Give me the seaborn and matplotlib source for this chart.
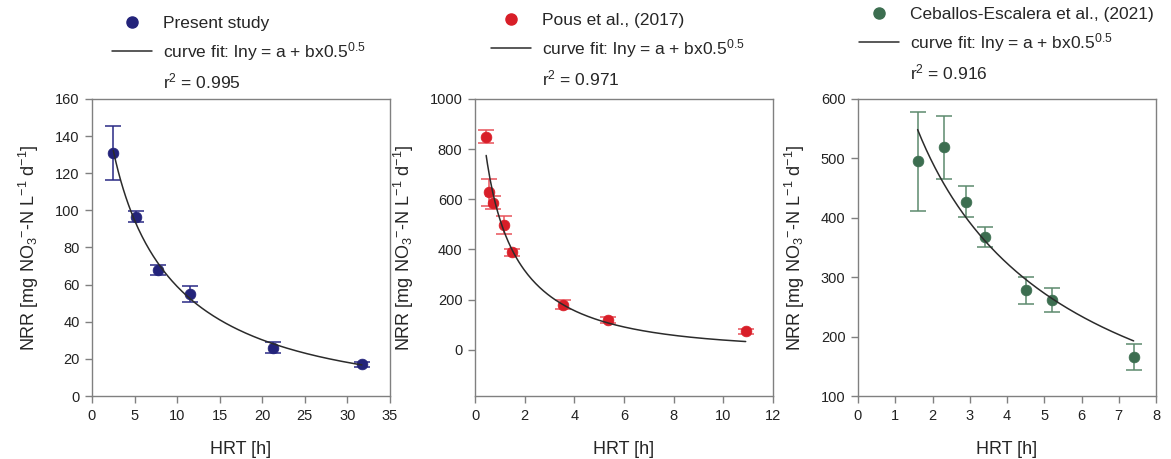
import numpy as np
import pandas as pd
import seaborn as sns
import matplotlib.pyplot as plt
from matplotlib.lines import Line2D

# ---- data ----
present_hrt = [2.5, 5.2, 7.7, 11.5, 21.3, 31.7]
present_nrr = [131, 96.5, 68, 55, 26, 17]
present_err = [14.7, 3, 2.7, 4.5, 3, 1.3]

pous_hrt = [0.45, 0.58, 0.73, 1.15, 1.5, 3.55, 5.35, 10.9]
pous_nrr = [850, 627, 587, 498, 388, 180, 120, 73]
pous_err = [25, 53, 24, 35, 14, 18, 12, 10]

ceb_hrt = [1.6, 2.3, 2.9, 3.4, 4.5, 5.2, 7.4]
ceb_nrr = [495, 519, 427, 367, 278, 262, 166]
ceb_err = [83, 53, 26, 17, 23, 20, 22]

labels = ["Present study", "Pous et al., (2017)", "Ceballos-Escalera et al., (2021)"]
r2_vals = ["0.995", "0.971", "0.916"]
colors = ["#23237a", "#d81e28", "#3c6e50"]
err_colors = ["#2a2a85", "#e8525a", "#5d8a6e"]


def fit_curve(x, y):
    # ln y = a + b*sqrt(x), least squares in y (Gauss-Newton)
    x = np.asarray(x, float)
    y = np.asarray(y, float)
    s = np.sqrt(x)
    b, a = np.polyfit(s, np.log(y), 1)
    for _ in range(100):
        f = np.exp(a + b * s)
        J = np.column_stack([f, f * s])
        step = np.linalg.lstsq(J, y - f, rcond=None)[0]
        a += step[0]
        b += step[1]
    xs = np.linspace(x.min(), x.max(), 200)
    return xs, np.exp(a + b * np.sqrt(xs))


sns.set_style("ticks")
plt.rcParams['font.family'] = ['Liberation Sans', 'DejaVu Sans']
plt.rcParams['mathtext.fontset'] = 'custom'
plt.rcParams['mathtext.rm'] = 'Liberation Sans'
plt.rcParams['mathtext.it'] = 'Liberation Sans'

fig = plt.figure(figsize=(11.71, 4.59), dpi=100)
lefts = [92, 475, 858]
ax_w, ax_h = 298, 297
ax_bottom = 459 - 396

panels = [
    (present_hrt, present_nrr, present_err, (0, 35), np.arange(0, 36, 5), (0, 160), np.arange(0, 161, 20)),
    (pous_hrt, pous_nrr, pous_err, (0, 12), np.arange(0, 13, 2), (-185, 1000), np.arange(0, 1001, 200)),
    (ceb_hrt, ceb_nrr, ceb_err, (0, 8), np.arange(0, 9, 1), (100, 600), np.arange(100, 601, 100)),
]
leg_pos = [(112, 16), (491, 13), (859, 7)]

for i, (hx, hy, he, xl, xt, yl, yt) in enumerate(panels):
    ax = fig.add_axes([lefts[i] / 1171, ax_bottom / 459, ax_w / 1171, ax_h / 459])
    df = pd.DataFrame({"HRT": hx, "NRR": hy})
    ax.errorbar(hx, hy, yerr=he, fmt="none", ecolor=err_colors[i], elinewidth=1.1,
                capsize=5.5, capthick=1.1, zorder=2)
    sns.scatterplot(data=df, x="HRT", y="NRR", color=colors[i], s=60,
                    edgecolor=colors[i], linewidth=0.5, ax=ax, zorder=3)
    xs, ys = fit_curve(hx, hy)
    sns.lineplot(x=xs, y=ys, color="#2b2b2b", linewidth=1.1, ax=ax, zorder=4)

    ax.set_xlim(*xl)
    ax.set_ylim(*yl)
    ax.set_xticks(xt)
    ax.set_yticks(yt)
    ax.set_xlabel("HRT [h]", fontsize=13, labelpad=13)
    ax.set_ylabel(r"NRR [mg NO$_3$$^{-}$-N L$^{-1}$ d$^{-1}$]", fontsize=13, labelpad=10)
    for sp in ax.spines.values():
        sp.set_color("#808080")
        sp.set_linewidth(1.0)
        sp.set_visible(True)
    ax.tick_params(direction="out", length=5, width=1, color="#808080",
                   labelsize=10.5, labelcolor="#222222", pad=4)

    handles = [
        Line2D([], [], marker="o", linestyle="none", color=colors[i], markersize=8),
        Line2D([], [], color="#2b2b2b", linewidth=1.1),
        Line2D([], [], linestyle="none", marker="none"),
    ]
    texts = [labels[i], r"curve fit: lny = a + bx0.5$^{0.5}$", r"r$^2$ = " + r2_vals[i]]
    lx, ly = leg_pos[i]
    fig.legend(handles, texts, loc="upper left", bbox_to_anchor=(lx / 1171, 1 - ly / 459),
               frameon=False, fontsize=12.5, handlelength=2.3, handletextpad=0.65,
               labelspacing=0.5, borderpad=0, borderaxespad=0)

fig.savefig("out.png", dpi=100)
